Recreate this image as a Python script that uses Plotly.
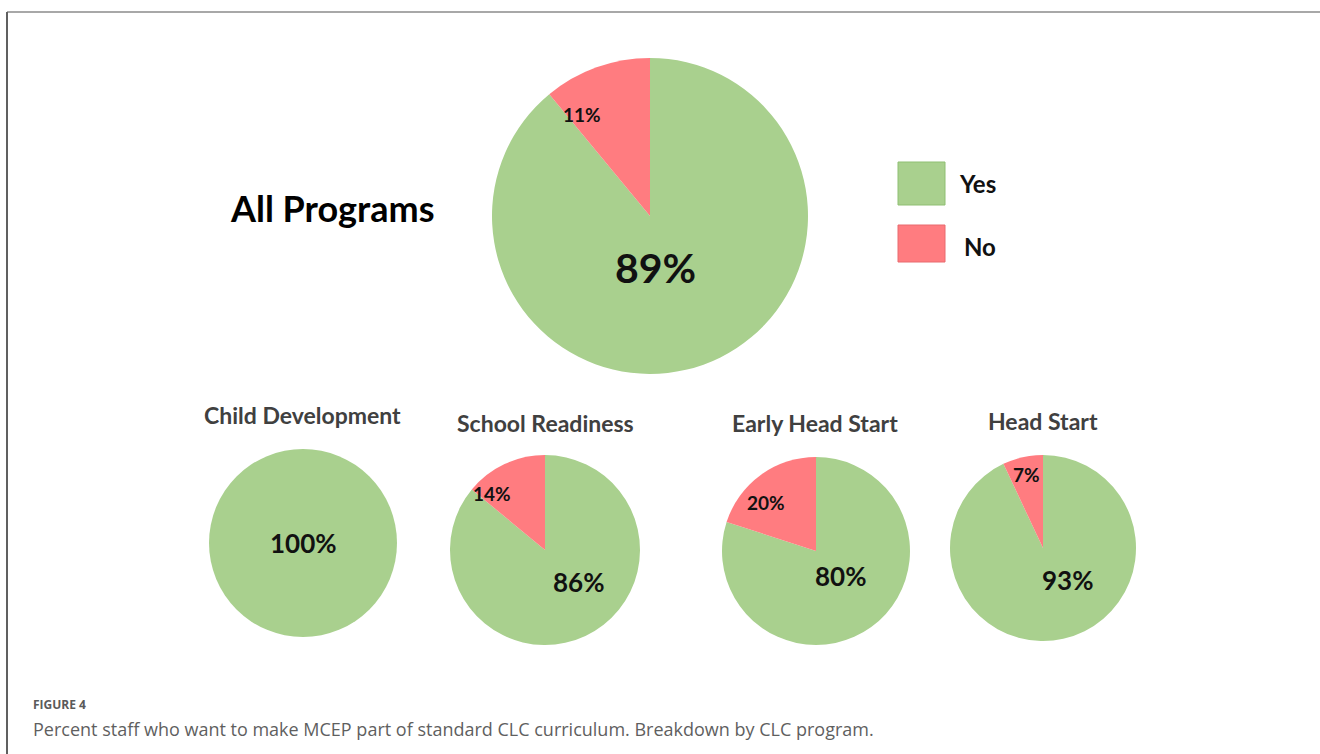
import math
import plotly.graph_objects as go

# ---------------- data ----------------
labels = ["Yes", "No"]
pie_titles = ["All Programs", "Child Development", "School Readiness", "Early Head Start", "Head Start"]
yes_values = [89, 100, 86, 80, 93]
no_values = [11, 0, 14, 20, 7]
caption_label = "FIGURE 4"
caption_text = "Percent staff who want to make MCEP part of standard CLC curriculum. Breakdown by CLC program."

# ---------------- style / layout ----------------
W, H = 1320, 754
GREEN = "#A9D08E"
RED = "#FF7C80"
FONT = "Lato"

# pie centre (px) and radius (px)
centres = [(650, 216), (303, 543), (545, 550), (816, 551), (1043, 548)]
radii = [158, 94, 95, 94, 93]
# title positions (px)
title_pos = [(332, 208), (302, 415), (545, 423), (815, 423), (1043, 421)]
title_size = [36, 23, 23, 23, 23]
title_color = ["#000000", "#404040", "#404040", "#404040", "#404040"]
# label placement: (radial factor, angle tweak deg) for yes / no
label_style = [
    [(0.33, 14), (0.77, -14)],
    [(0.0, 0), (0.0, 0)],
    [(0.49, -21), (0.82, -18)],
    [(0.37, -8), (0.74, -10)],
    [(0.44, -25), (0.81, 0)],
]
label_size = [[41, 19], [26, 19], [26, 19], [26, 19], [26, 19]]


def px_to_paper(x, y):
    return x / W, 1 - y / H


fig = go.Figure()
annotations = []

for i, (yv, nv) in enumerate(zip(yes_values, no_values)):
    cx, cy = centres[i]
    r = radii[i]
    x0, y1 = px_to_paper(cx - r, cy - r)
    x1, y0 = px_to_paper(cx + r, cy + r)
    fig.add_trace(go.Pie(
        labels=labels,
        values=[yv, nv],
        sort=False,
        direction="clockwise",
        rotation=0,
        marker=dict(colors=[GREEN, RED], line=dict(width=0)),
        textinfo="none",
        hoverinfo="label+percent",
        showlegend=False,
        domain=dict(x=[x0, x1], y=[y0, y1]),
    ))
    # value labels computed from data
    total = yv + nv
    start = 0.0
    for j, v in enumerate([yv, nv]):
        if v <= 0:
            continue
        span = 360.0 * v / total
        mid = start + span / 2
        start += span
        f, d = label_style[i][j]
        if v == total:
            f = 0.0
        ang = math.radians(mid + d)
        lx = cx + f * r * math.sin(ang)
        ly = cy - f * r * math.cos(ang)
        px, py = px_to_paper(lx, ly)
        annotations.append(dict(
            x=px, y=py, xref="paper", yref="paper", showarrow=False,
            text=f"<b>{v}%</b>",
            font=dict(family=FONT, size=label_size[i][j], color="#111111"),
            xanchor="center", yanchor="middle",
        ))
    tx, ty = px_to_paper(*title_pos[i])
    annotations.append(dict(
        x=tx, y=ty, xref="paper", yref="paper", showarrow=False,
        text=f"<b>{pie_titles[i]}</b>",
        font=dict(family=FONT, size=title_size[i], color=title_color[i]),
        xanchor="center", yanchor="middle",
    ))

shapes = []
# custom legend
legend_boxes = [(898, 162, 945, 205, GREEN, "#8FBF72"), (898, 225, 945, 262, RED, "#E86A6E")]
legend_text_pos = [(957, 184), (962, 246)]
for (bx0, by0, bx1, by1, col, lc), lab, (lx, ly) in zip(legend_boxes, labels, legend_text_pos):
    ax0, ay1 = px_to_paper(bx0, by0)
    ax1, ay0 = px_to_paper(bx1, by1)
    shapes.append(dict(type="rect", xref="paper", yref="paper", x0=ax0, x1=ax1, y0=ay0, y1=ay1,
                       fillcolor=col, line=dict(color=lc, width=1)))
    tx, ty = px_to_paper(lx, ly)
    annotations.append(dict(x=tx, y=ty, xref="paper", yref="paper", showarrow=False,
                            text=f"<b>{lab}</b>", font=dict(family=FONT, size=24, color="#111111"),
                            xanchor="left", yanchor="middle"))

# frame lines
shapes.append(dict(type="line", xref="paper", yref="paper", x0=7 / W, x1=1, y0=1 - 12 / H, y1=1 - 12 / H,
                   line=dict(color="#A8A8A8", width=2)))
shapes.append(dict(type="line", xref="paper", yref="paper", x0=7 / W, x1=7 / W, y0=0, y1=1 - 12 / H,
                   line=dict(color="#606060", width=2)))

# caption
cx0, cy0 = px_to_paper(31, 704)
annotations.append(dict(x=cx0, y=cy0, xref="paper", yref="paper", showarrow=False,
                        text=f"<b>{caption_label}</b>",
                        font=dict(family="Open Sans", size=12, color="#5A5A5A"),
                        xanchor="left", yanchor="middle"))
cx1, cy1 = px_to_paper(31, 729)
annotations.append(dict(x=cx1, y=cy1, xref="paper", yref="paper", showarrow=False,
                        text=caption_text,
                        font=dict(family="Open Sans", size=18, color="#5F5F5F"),
                        xanchor="left", yanchor="middle"))

fig.update_layout(
    width=W, height=H,
    margin=dict(l=0, r=0, t=0, b=0),
    paper_bgcolor="white", plot_bgcolor="white",
    annotations=annotations, shapes=shapes,
    showlegend=False,
)
fig.write_html("out.html")
